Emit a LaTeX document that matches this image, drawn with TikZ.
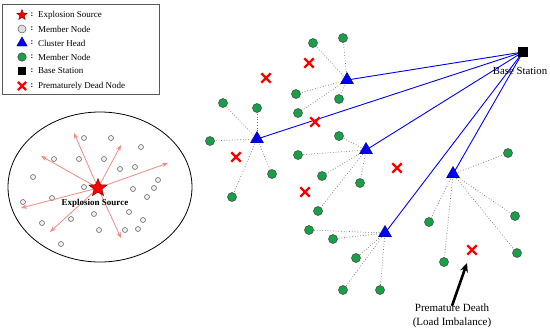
\documentclass[tikz,border=0pt]{standalone}
\usepackage{fontspec}
\setmainfont{Liberation Serif}
\usetikzlibrary{shapes.geometric,shapes.misc,arrows.meta}
\pgfdeclarelayer{background}
\pgfsetlayers{background,main}
\definecolor{gcol}{RGB}{24,160,72}
\definecolor{salmon}{RGB}{240,140,132}
\begin{document}
\begin{tikzpicture}[x=1pt,y=-1pt,
  every node/.style={font=\fontsize{9}{10}\selectfont},
  gnode/.style={circle,draw=black!75,fill=gcol,minimum size=9pt,inner sep=0pt,line width=0.5pt},
  chead/.style={regular polygon,regular polygon sides=3,fill=blue,draw=blue!40!black,line width=0.4pt,minimum size=15pt,inner sep=0pt},
  dead/.style={cross out,draw=red,line width=2.4pt,minimum size=7pt,inner sep=0pt},
  mnode/.style={circle,draw=black!65,fill=gray!12,minimum size=5pt,inner sep=0pt,line width=0.5pt},
  bstation/.style={rectangle,fill=black,minimum size=10pt,inner sep=0pt},
  expstar/.style={star,star points=5,star point ratio=2.3,fill=red,draw=red!45!black,line width=0.4pt,minimum size=19pt,inner sep=0pt},
  uplink/.style={draw=blue,line width=0.9pt},
  member/.style={draw=gray!85!black,dotted,line width=0.7pt},
  blast/.style={draw=salmon,line width=0.8pt,-{Stealth[length=6pt,width=4.5pt]}},
  bigarrow/.style={draw=black,line width=2.6pt,-{Stealth[length=9pt,width=8pt]}},
  legtext/.style={anchor=west,inner sep=0pt,font=\fontsize{9}{10}\selectfont}
]
\useasboundingbox (0,0) rectangle (550,333);

% ---------------- legend ----------------
\node[draw=black!65,line width=0.6pt,minimum width=157pt,minimum height=90pt,anchor=north west,inner sep=0pt] (legend) at (2,4) {};
\node[expstar,minimum size=11pt] (ls1) at (22,15) {};
\node[mnode,minimum size=8pt,fill=gray!25] (ls2) at (22,29) {};
\node[chead,minimum size=12pt] (ls3) at (22,43) {};
\node[gnode,minimum size=8.5pt] (ls4) at (22,57) {};
\node[bstation,minimum size=8pt] (ls5) at (22,71) {};
\node[dead,minimum size=6pt,line width=2.2pt] (ls6) at (22,86) {};
\foreach \i/\y in {1/15,2/29,3/43,4/57,5/71,6/86}{
  \node[font=\bfseries\fontsize{8}{9}\selectfont,inner sep=0pt] (lc\i) at (32,\y) {:};
}
\node[legtext] (lt1) at (38,15) {Explosion Source};
\node[legtext] (lt2) at (38,29) {Member Node};
\node[legtext] (lt3) at (38,43) {Cluster Head};
\node[legtext] (lt4) at (38,57) {Member Node};
\node[legtext] (lt5) at (38,71) {Base Station};
\node[legtext] (lt6) at (38,86) {Prematurely Dead Node};

% ---------------- explosion area ----------------
\node[ellipse,draw=black,line width=0.8pt,minimum width=184pt,minimum height=150pt,inner sep=0pt] (area) at (100,187) {};
\foreach \n/\x/\y in {a1/84/138,a2/111/138,a3/141/147,a4/54/159,a5/79/159,a6/104/159,
  a7/120/169,a8/135/167,a9/33/177,a10/158/180,a11/84/187,a12/133/189,a13/154/188,
  a14/52/198,a15/23/202,a16/147/197,a17/94/214,a18/129/212,a19/42/223,a20/71/219,
  a21/143/220,a22/99/230,a23/125/230,a24/138/229,a25/61/244}{
  \node[mnode] (\n) at (\x,\y) {};
}
\coordinate (e1) at (74,133);
\coordinate (e2) at (121,145);
\coordinate (e3) at (41,156);
\coordinate (e4) at (168,163);
\coordinate (e5) at (21,208);
\coordinate (e6) at (50,232);
\coordinate (e7) at (121,238);
\foreach \e in {e1,e2,e3,e4,e5,e6,e7}{
  \draw[blast] (98,188) -- (\e);
}
\node[expstar] (src) at (98,188) {};
\node[font=\bfseries\fontsize{9}{10}\selectfont,inner sep=0pt] (srclabel) at (95,203) {Explosion Source};

% ---------------- network ----------------
\node[bstation] (bs) at (523,52) {};
\node[inner sep=0pt,font=\fontsize{10.8}{12}\selectfont] (bslabel) at (520,71) {Base Station};

\node[chead] (ch1) at (347,80) {};
\node[chead] (ch2) at (257,139) {};
\node[chead] (ch3) at (366,150) {};
\node[chead] (ch4) at (453,174) {};
\node[chead] (ch5) at (385,233) {};

\foreach \n/\x/\y in {g11/313/43,g12/343/38,g13/296/94,g14/298/113,g15/339/99,
  g21/223/103,g22/257/108,g23/210/141,g24/272/174,g25/232/197,
  g31/339/136,g32/298/155,g33/322/176,g34/360/183,g35/318/211,
  g41/508/153,g42/515/216,g43/429/222,g44/444/262,g45/517/253,
  g51/309/230,g52/333/239,g53/356/258,g54/343/290,g55/380/290}{
  \node[gnode] (\n) at (\x,\y) {};
}

\foreach \n/\x/\y in {d1/309/63,d2/266/78,d3/315/122,d4/236/157,d5/305/192,d6/397/168,d7/472/250}{
  \node[dead] (\n) at (\x,\y) {};
}

\begin{pgfonlayer}{background}
  \foreach \c in {ch1,ch2,ch3,ch4,ch5}{
    \draw[uplink] (\c.center) -- (bs.center);
  }
  \foreach \c in {1,...,5}{
    \foreach \g in {1,...,5}{
      \draw[member] (ch\c.center) -- (g\c\g);
    }
  }
\end{pgfonlayer}

\node[align=center,inner sep=0pt,font=\fontsize{11}{14}\selectfont] (pd) at (452,316) {Premature Death\\(Load Imbalance)};
\coordinate (pdtip) at (467,263);
\draw[bigarrow] ([yshift=-2pt]pd.north) -- (pdtip);
\end{tikzpicture}
\end{document}
